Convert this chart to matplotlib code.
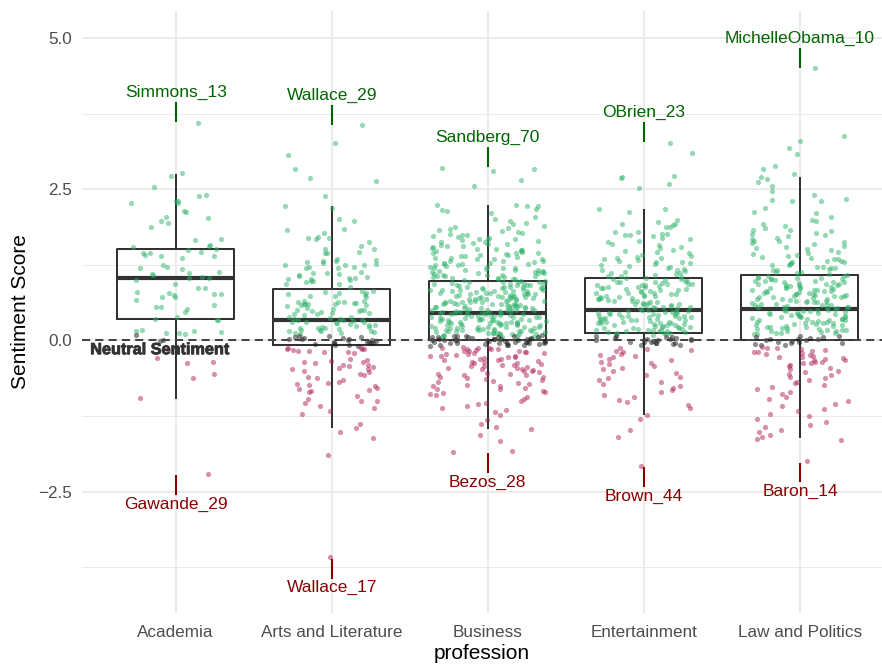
import matplotlib
matplotlib.use("Agg")
import matplotlib.pyplot as plt
import matplotlib.patheffects as pe
import numpy as np

plt.rcParams['font.family'] = ['Liberation Sans', 'DejaVu Sans']

# ---------------- data ----------------
categories = ["Academia", "Arts and Literature", "Business", "Entertainment", "Law and Politics"]

# box statistics
box_q1 = [0.35, -0.08, 0.00, 0.12, 0.00]
box_med = [1.03, 0.33, 0.45, 0.51, 0.52]
box_q3 = [1.52, 0.85, 0.99, 1.04, 1.08]
box_whislo = [-0.96, -1.44, -1.45, -1.22, -1.60]
box_whishi = [2.73, 2.21, 2.23, 2.15, 2.68]

# extreme labels
top_names = ["Simmons_13", "Wallace_29", "Sandberg_70", "OBrien_23", "MichelleObama_10"]
top_values = [3.60, 3.56, 2.86, 3.27, 4.50]
bottom_names = ["Gawande_29", "Wallace_17", "Bezos_28", "Brown_44", "Baron_14"]
bottom_values = [-2.21, -3.59, -1.85, -2.08, -2.00]

y_ticks = [-2.5, 0.0, 2.5, 5.0]
y_tick_labels = ["\u22122.5", "0.0", "2.5", "5.0"]

# individual sentiment scores (positive / neutral / negative)
acad_pos = [3.60, 2.77, 2.72, 2.54, 2.40, 2.39, 2.30, 2.31, 2.28, 2.27, 2.14, 2.13, 2.05, 2.02, 1.97,
            1.95, 1.87, 1.68, 1.66, 1.58, 1.57, 1.54, 1.50, 1.51, 1.45, 1.46, 1.44, 1.40, 1.41, 1.39,
            1.36, 1.24, 1.22, 1.18, 1.19, 1.12, 1.13, 1.10, 1.09, 1.05, 1.04, 1.03, 1.00, 0.93, 0.86,
            0.87, 0.80, 0.78, 0.77, 0.76, 0.75, 0.72, 0.71, 0.67, 0.58, 0.55, 0.56, 0.52, 0.47, 0.39,
            0.35, 0.34, 0.33, 0.17, 0.16, 0.15, 0.14, 0.13, 0.13, 0.11]
acad_neu = [0.09, 0.01, -0.01]
acad_neg = [-0.18, -0.29, -0.36, -0.37, -0.56, -0.63, -0.96, -2.21]

arts_pos = [3.56, 3.27, 3.07, 2.84, 2.69, 2.63, 2.39, 2.22, 2.19, 2.01, 1.98, 1.84, 1.83, 1.77, 1.71,
            1.70, 1.69, 1.68, 1.62, 1.56, 1.52, 1.51, 1.45, 1.46, 1.44, 1.33, 1.32, 1.31, 1.34, 1.30,
            1.28, 1.26, 1.25, 1.24, 1.25, 1.22, 1.21, 1.19, 1.20, 1.13, 1.12, 1.10, 1.11, 1.09, 1.05,
            1.04, 1.00, 0.99, 0.97, 1.06, 1.03, 1.02, 0.98, 1.01, 0.94, 0.93, 0.89,
            0.82, 0.81, 0.80, 0.79, 0.77, 0.78, 0.75, 0.74, 0.73, 0.72,
            0.66, 0.65, 0.64, 0.64, 0.63, 0.62, 0.62, 0.61, 0.61, 0.60, 0.60, 0.59, 0.58, 0.57,
            0.53, 0.52, 0.51, 0.50, 0.50, 0.49, 0.48, 0.47, 0.46, 0.45, 0.44, 0.43, 0.42,
            0.39, 0.38, 0.37, 0.36, 0.35, 0.34, 0.33, 0.33, 0.32, 0.31, 0.30, 0.30, 0.29, 0.28, 0.27, 0.26,
            0.25, 0.24, 0.23, 0.22, 0.21, 0.20, 0.19, 0.18, 0.17, 0.16, 0.15, 0.14, 0.13, 0.12, 0.11,
            0.20, 0.16]
arts_neu = [0.08, 0.06, 0.05, 0.04, 0.03, 0.02, 0.01, 0.00, -0.01, -0.02, -0.03, -0.04, -0.05,
            -0.06, -0.07, -0.08, 0.07, 0.02, -0.02, -0.05, 0.04, -0.09]
arts_neg = [-0.12, -0.13, -0.14, -0.15, -0.16, -0.17, -0.18, -0.19, -0.20, -0.21, -0.14, -0.30,
            -0.32, -0.34, -0.36, -0.38, -0.40, -0.42, -0.44, -0.46, -0.48, -0.50, -0.35, -0.41,
            -0.47, -0.52, -0.55, -0.58, -0.60, -0.63, -0.66, -0.69, -0.71, -0.72, -0.74, -0.76,
            -0.78, -0.80, -0.82, -0.84, -0.86, -0.92, -0.97, -1.00, -1.01, -1.04, -1.08, -1.12,
            -1.17, -1.21, -1.39, -1.45, -1.51, -1.62, -1.90, -3.59]

biz_pos = [2.86, 2.83, 2.81, 2.65, 2.56, 2.24, 2.24, 2.23, 2.22, 2.14, 2.17, 2.15, 2.11, 2.05, 2.01,
           1.98, 1.95, 1.93, 1.90, 1.88, 1.86, 1.84, 1.82, 1.81, 1.79, 1.78, 1.76, 1.75, 1.74, 1.72,
           1.71, 1.70, 1.68, 1.68, 1.67, 1.66, 1.65, 1.63, 1.63, 1.61, 1.60, 1.59, 1.58, 1.56, 1.56,
           1.55, 1.53, 1.52, 1.52, 1.50, 1.49, 1.48, 1.48, 1.46, 1.45, 1.45, 1.44, 1.43, 1.41, 1.41,
           1.40, 1.39, 1.38, 1.36, 1.36, 1.35, 1.34, 1.32, 1.32, 1.31, 1.30, 1.28, 1.28, 1.27, 1.26,
           1.25, 1.24, 1.23, 1.22, 1.21, 1.20, 1.19, 1.19, 1.18, 1.17, 1.16, 1.15, 1.15, 1.14, 1.13,
           1.12, 1.11, 1.11, 1.10, 1.09, 1.08, 1.08, 1.07, 1.06, 1.05, 1.05, 1.04, 1.03, 1.02, 1.02,
           1.01, 1.00, 0.99, 1.13, 1.26, 1.17, 1.06, 1.34,
           0.98, 0.97, 0.97, 0.96, 0.95, 0.94, 0.94, 0.93, 0.92, 0.91, 0.91, 0.90, 0.89, 0.88, 0.88,
           0.87, 0.86, 0.85, 0.85, 0.84, 0.83, 0.83, 0.82, 0.81, 0.80, 0.80, 0.79, 0.78, 0.77, 0.77,
           0.76, 0.75, 0.75, 0.74, 0.73, 0.72, 0.72, 0.71, 0.70, 0.70, 0.69, 0.68, 0.67, 0.67, 0.66,
           0.65, 0.65, 0.64, 0.63, 0.62, 0.62, 0.61, 0.60, 0.60, 0.59, 0.58, 0.57, 0.57, 0.56, 0.55,
           0.55, 0.54, 0.53, 0.53, 0.52, 0.51, 0.51, 0.50, 0.49, 0.49, 0.48, 0.47, 0.47, 0.46, 0.45,
           0.45, 0.93, 0.86, 0.79, 0.74, 0.69, 0.63, 0.58, 0.54, 0.50, 0.46, 0.96, 0.89, 0.82, 0.76,
           0.71, 0.66, 0.61, 0.56, 0.52, 0.48, 0.92, 0.84, 0.78, 0.73, 0.68, 0.64, 0.59, 0.55, 0.51,
           0.47, 0.87, 0.81, 0.70, 0.61,
           0.44, 0.43, 0.43, 0.42, 0.41, 0.40, 0.40, 0.39, 0.38, 0.37, 0.37, 0.36, 0.35, 0.34, 0.34,
           0.33, 0.32, 0.31, 0.31, 0.30, 0.29, 0.28, 0.28, 0.27, 0.26, 0.25, 0.25, 0.24, 0.23, 0.22,
           0.22, 0.21, 0.20, 0.19, 0.19, 0.18, 0.17, 0.16, 0.16, 0.15, 0.14, 0.13, 0.13, 0.12, 0.11,
           0.10, 0.10, 0.09, 0.08, 0.07, 0.06, 0.05, 0.42, 0.38, 0.35, 0.31, 0.27, 0.24, 0.20, 0.17,
           0.14, 0.11, 0.41, 0.36, 0.33, 0.29, 0.26, 0.22, 0.18, 0.15, 0.12, 0.08, 0.39, 0.34, 0.30,
           0.27, 0.23, 0.21, 0.17, 0.13, 0.09, 0.32, 0.28, 0.19, 0.15, 0.44, 0.06]
biz_neu = [0.09, 0.08, 0.07, 0.06, 0.05, 0.05, 0.04, 0.03, 0.03, 0.02, 0.01, 0.01, 0.00, 0.00, -0.01,
           -0.01, -0.02, -0.03, -0.03, -0.04, -0.05, -0.05, -0.06, -0.07, -0.08, -0.09, 0.06, 0.02,
           -0.02, -0.04, 0.04, -0.06, 0.08, 0.00, -0.08, 0.03, -0.03, 0.07, -0.07, 0.01, -0.01, 0.05,
           -0.05, 0.02, -0.04]
biz_neg = [-0.11, -0.12, -0.12, -0.13, -0.14, -0.15, -0.15, -0.16, -0.17, -0.18, -0.18, -0.19, -0.20,
           -0.21, -0.21, -0.22, -0.23, -0.24, -0.25, -0.25, -0.26, -0.27, -0.28, -0.29, -0.30,
           -0.31, -0.32, -0.33, -0.34, -0.35, -0.36, -0.37, -0.38, -0.39, -0.40, -0.41, -0.42, -0.43,
           -0.44, -0.45, -0.46, -0.47, -0.48, -0.49, -0.50, -0.51, -0.52, -0.54, -0.55, -0.56, -0.57,
           -0.58, -0.60, -0.61, -0.63, -0.64, -0.66, -0.67, -0.69, -0.70, -0.72, -0.73, -0.75, -0.76,
           -0.78, -0.80, -0.81, -0.83, -0.85, -0.87, -0.89, -0.91, -0.94, -0.97, -1.00, -1.03, -1.06,
           -1.09, -1.12, -1.15, -1.19, -1.24, -1.31, -1.38, -1.43, -1.47, -1.56, -1.67, -1.83, -1.85]

ent_pos = [3.27, 3.10, 2.72, 2.71, 2.69, 2.59, 2.52, 2.17, 2.17, 2.13, 2.00, 1.96, 1.93, 1.92, 1.91,
           1.88, 1.88, 1.80, 1.79, 1.76, 1.76, 1.75, 1.74, 1.72, 1.70, 1.67, 1.65, 1.63, 1.60, 1.58,
           1.55, 1.53, 1.50, 1.48, 1.46, 1.44, 1.42, 1.40, 1.38, 1.37, 1.35, 1.33, 1.31, 1.30, 1.28,
           1.26, 1.25, 1.23, 1.21, 1.20, 1.18, 1.17, 1.15, 1.14, 1.12, 1.11, 1.10, 1.08, 1.07, 1.06,
           1.05, 1.04, 1.29, 1.16, 1.36,
           1.03, 1.02, 1.01, 1.00, 0.99, 0.98, 0.97, 0.96, 0.95, 0.94, 0.93, 0.92, 0.91, 0.90, 0.89,
           0.88, 0.87, 0.86, 0.85, 0.84, 0.83, 0.82, 0.81, 0.80, 0.79, 0.78, 0.77, 0.76, 0.75, 0.74,
           0.73, 0.72, 0.71, 0.70, 0.69, 0.68, 0.67, 0.66, 0.65, 0.64, 0.63, 0.62, 0.61, 0.60, 0.59,
           0.58, 0.57, 0.56, 0.55, 0.54, 0.53, 0.52, 0.51, 0.97, 0.91, 0.85, 0.78, 0.73, 0.66, 0.60,
           0.55, 0.88, 0.70, 0.62, 0.94,
           0.50, 0.49, 0.49, 0.48, 0.47, 0.46, 0.45, 0.44, 0.44, 0.43, 0.42, 0.41, 0.40, 0.39, 0.39,
           0.38, 0.37, 0.36, 0.35, 0.34, 0.34, 0.33, 0.32, 0.31, 0.30, 0.29, 0.29, 0.28, 0.27, 0.26,
           0.25, 0.24, 0.24, 0.23, 0.22, 0.21, 0.20, 0.19, 0.19, 0.18, 0.17, 0.16, 0.15, 0.14, 0.14,
           0.13, 0.12, 0.47, 0.43, 0.37, 0.32, 0.27, 0.22, 0.17, 0.13, 0.45, 0.40, 0.35, 0.30, 0.26,
           0.21, 0.16, 0.41, 0.28, 0.18, 0.11, 0.10, 0.09]
ent_neu = [0.08, 0.07, 0.05, 0.04, 0.03, 0.02, 0.01, 0.00, -0.01, -0.02, -0.03, -0.04, -0.05, -0.06,
           -0.07, -0.08, 0.06, 0.02, -0.02, 0.04, -0.05, 0.00]
ent_neg = [-0.12, -0.14, -0.16, -0.18, -0.20, -0.22, -0.24, -0.26, -0.28, -0.31, -0.33, -0.35, -0.37,
           -0.39, -0.42, -0.45, -0.48, -0.51, -0.54, -0.57, -0.60, -0.63, -0.66, -0.69, -0.72, -0.75,
           -0.78, -0.82, -0.86, -0.90, -0.94, -0.98, -1.02, -1.07, -1.12, -1.23, -1.30, -1.48, -1.60,
           -2.08]

law_pos = [4.50, 3.39, 3.30, 3.18, 3.09, 2.89, 2.83, 2.75, 2.70, 2.67, 2.62, 2.55, 2.48, 2.40, 2.34,
           2.33, 2.31, 2.31, 2.19, 2.13, 2.10, 2.05, 2.00, 1.97, 1.93, 1.90, 1.86, 1.83, 1.82, 1.81,
           1.78, 1.76, 1.74, 1.72, 1.70, 1.68, 1.65, 1.65, 1.63, 1.61, 1.59, 1.57, 1.55, 1.53, 1.51,
           1.49, 1.47, 1.45, 1.43, 1.41, 1.40, 1.38, 1.37, 1.35, 1.34, 1.32, 1.31, 1.29, 1.28, 1.26,
           1.25, 1.24, 1.22, 1.21, 1.20, 1.18, 1.17, 1.16, 1.14, 1.13, 1.12, 1.10, 1.09, 1.30, 1.19,
           1.07, 1.06, 1.05, 1.04, 1.03, 1.02, 1.01, 1.00, 0.99, 0.98, 0.97, 0.96, 0.95, 0.94, 0.93,
           0.92, 0.91, 0.90, 0.89, 0.88, 0.87, 0.86, 0.85, 0.84, 0.83, 0.82, 0.81, 0.80, 0.79, 0.78,
           0.77, 0.76, 0.75, 0.74, 0.73, 0.72, 0.71, 0.70, 0.69, 0.68, 0.67, 0.66, 0.65, 0.64, 0.63,
           0.62, 0.61, 0.60, 0.59, 0.58, 0.57, 0.56, 0.55, 0.54, 0.53, 1.04, 0.97, 0.91, 0.86, 0.80,
           0.75, 0.69, 0.64, 0.58, 0.55, 1.01, 0.94, 0.88, 0.82, 0.77, 0.71, 0.66, 0.61, 0.56, 0.99,
           0.84, 0.73,
           0.52, 0.51, 0.50, 0.49, 0.48, 0.47, 0.46, 0.45, 0.44, 0.43, 0.42, 0.41, 0.40, 0.39, 0.38,
           0.37, 0.36, 0.35, 0.34, 0.33, 0.32, 0.31, 0.30, 0.29, 0.28, 0.27, 0.26, 0.25, 0.24, 0.23,
           0.22, 0.21, 0.20, 0.19, 0.18, 0.17, 0.16, 0.15, 0.14, 0.13, 0.12, 0.11, 0.10, 0.50, 0.45,
           0.41, 0.36, 0.31, 0.27, 0.22, 0.17, 0.13, 0.48, 0.38, 0.29, 0.19, 0.43, 0.33, 0.24, 0.15]
law_neu = [0.08, 0.07, 0.05, 0.04, 0.02, 0.01, 0.00, -0.01, -0.02, -0.03, -0.05, -0.06, -0.08, 0.06,
           0.03, -0.04, 0.02, -0.07]
law_neg = [-0.11, -0.12, -0.13, -0.15, -0.16, -0.17, -0.19, -0.20, -0.21, -0.23, -0.24, -0.25, -0.27,
           -0.28, -0.29, -0.31, -0.32, -0.33, -0.35, -0.36, -0.37, -0.38, -0.40, -0.43, -0.45, -0.48,
           -0.50, -0.53, -0.55, -0.58, -0.60, -0.63, -0.65, -0.68, -0.70, -0.73, -0.77, -0.81, -0.85,
           -0.89, -0.93, -0.97, -1.01, -1.05, -1.09, -1.13, -1.17, -1.21, -1.25, -1.30, -1.35, -1.40,
           -1.44, -1.48, -1.52, -1.56, -1.60, -1.63, -1.65, -2.00]

pos_groups = [acad_pos, arts_pos, biz_pos, ent_pos, law_pos]
neu_groups = [acad_neu, arts_neu, biz_neu, ent_neu, law_neu]
neg_groups = [acad_neg, arts_neg, biz_neg, ent_neg, law_neg]

# ---------------- styling ----------------
POS_COLOR = "#2DB36A"
NEG_COLOR = "#B0225A"
NEU_COLOR = "#1A1A1A"
POINT_ALPHA = 0.5
JITTER_WIDTHS = [0.30, 0.30, 0.37, 0.31, 0.31]

W, H = 882, 664
fig = plt.figure(figsize=(W / 100, H / 100), dpi=100)
left_px, right_px, top_px, bottom_px = 82, 882, 11, 613
ax = fig.add_axes([left_px / W, (H - bottom_px) / H, (right_px - left_px) / W, (bottom_px - top_px) / H])
ax.set_facecolor("white")

x_pos = np.arange(len(categories))

# boxplots
stats = []
for i in range(len(categories)):
    stats.append(dict(med=box_med[i], q1=box_q1[i], q3=box_q3[i],
                      whislo=box_whislo[i], whishi=box_whishi[i], fliers=[]))
ax.bxp(stats, positions=x_pos, widths=0.75, showcaps=False, showfliers=False,
       manage_ticks=False,
       boxprops=dict(color="#333333", linewidth=1.45),
       whiskerprops=dict(color="#333333", linewidth=1.45),
       medianprops=dict(color="#333333", linewidth=3.0, solid_capstyle="butt"),
       zorder=2)

ax.set_xlim(-0.6, (right_px - 176) / 156)
ax.set_ylim(-4.51, 5.45)

# grid and ticks
ax.set_xticks(x_pos)
ax.set_xticklabels(categories)
ax.set_yticks(y_ticks)
ax.set_yticklabels(y_tick_labels)
ax.set_yticks([-3.75, -1.25, 1.25, 3.75], minor=True)
ax.grid(which="major", axis="both", color="#EBEBEB", linewidth=1.4, zorder=0)
ax.grid(which="minor", axis="y", color="#EBEBEB", linewidth=0.7, zorder=0)
ax.set_axisbelow(True)
for s in ax.spines.values():
    s.set_visible(False)
ax.tick_params(axis="both", which="both", length=0, colors="#4D4D4D", labelsize=12.3)
ax.tick_params(axis="y", pad=7)
ax.tick_params(axis="x", pad=8.5)


def jitter_offsets(n, k, width):
    idx = np.arange(n) + 1
    h = np.sin(idx * 12.9898 + k * 78.233) * 43758.5453
    return ((h - np.floor(h)) - 0.5) * 2 * width


for k in range(len(categories)):
    for vals, col, kk in ((pos_groups[k], POS_COLOR, 0), (neu_groups[k], NEU_COLOR, 1),
                          (neg_groups[k], NEG_COLOR, 2)):
        v = np.asarray(vals, dtype=float)
        xs = x_pos[k] + jitter_offsets(len(v), k * 3 + kk + 1, JITTER_WIDTHS[k])
        ax.scatter(xs, v, s=14, color=col, alpha=POINT_ALPHA, linewidths=0, zorder=3)

# neutral line
ax.axhline(0, color="#444444", linewidth=1.45, linestyle=(0, (4, 2.6)), zorder=4)
ax.text(-0.1, -0.03, "Neutral Sentiment", ha="center", va="top", fontsize=11.7,
        fontweight="bold", color="#333333", zorder=5,
        path_effects=[pe.withStroke(linewidth=0.6, foreground="#333333")])

# extreme annotations
for k in range(len(categories)):
    ax.plot([x_pos[k], x_pos[k]], [top_values[k] + 0.01, top_values[k] + 0.34],
            color="#006400", linewidth=1.5, zorder=5, solid_capstyle="butt")
    ax.text(x_pos[k], top_values[k] + 0.5, top_names[k], ha="center", va="center",
            fontsize=12.5, color="#006400", zorder=5)
    ax.plot([x_pos[k], x_pos[k]], [bottom_values[k] - 0.02, bottom_values[k] - 0.35],
            color="#8B0000", linewidth=1.5, zorder=5, solid_capstyle="butt")
    ax.text(x_pos[k], bottom_values[k] - 0.5, bottom_names[k], ha="center", va="center",
            fontsize=12.5, color="#8B0000", zorder=5)

ax.set_xlabel("profession", fontsize=15, color="black", labelpad=3)
ax.set_ylabel("Sentiment Score", fontsize=15, color="black", labelpad=6)

fig.savefig("out.png", dpi=100, facecolor="white")
